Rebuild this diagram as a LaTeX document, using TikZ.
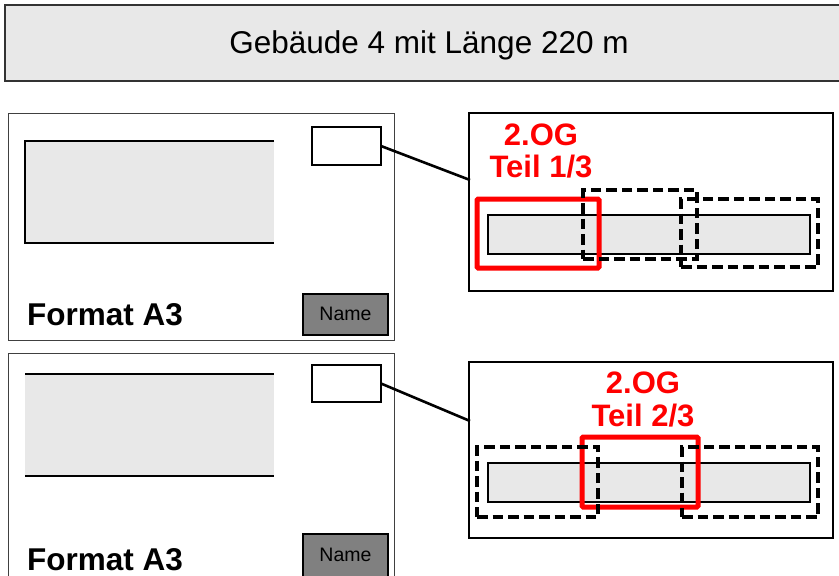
\documentclass[tikz,border=0pt]{standalone}
\usepackage{fontspec}
\setmainfont{Liberation Sans}
\definecolor{lightfill}{HTML}{E8E8E8}
\definecolor{namefill}{HTML}{808080}
\definecolor{redline}{HTML}{FF0000}
\tikzset{
  box/.style={rectangle, inner sep=0pt, outer sep=0pt},
  banner/.style={box, draw=black!80, line width=1.8pt, fill=lightfill},
  sheet/.style={box, draw=black!75, line width=1pt, fill=white},
  panel/.style={box, draw=black, line width=2.6pt, fill=white},
  smallbox/.style={box, draw=black, line width=1.5pt, fill=white},
  namebox/.style={box, draw=black, line width=1.5pt, fill=namefill},
  greyarea/.style={box, fill=lightfill},
  edge/.style={draw=black, line width=2pt},
  bar/.style={box, draw=black, line width=1.4pt, fill=lightfill},
  redbox/.style={box, draw=redline, line width=5pt, rounded corners=1.2pt},
  dashbox/.style={box, draw=black, line width=4.6pt, dash pattern=on 10.5pt off 5pt},
  conn/.style={draw=black, line width=2.6pt},
  bigtext/.style={inner sep=0pt, anchor=base, font=\fontsize{31.5}{36}\selectfont},
  fmttext/.style={inner sep=0pt, anchor=base west, font=\fontsize{31.5}{36}\selectfont\bfseries},
  redtext/.style={inner sep=0pt, anchor=base, text=redline, font=\fontsize{31}{36}\selectfont\bfseries},
  nametext/.style={inner sep=0pt, anchor=base, font=\fontsize{19.5}{22}\selectfont},
}
\begin{document}
\begin{tikzpicture}[x=1pt,y=-1pt]
\useasboundingbox (0,0) rectangle (839,576);
\clip (0,0) rectangle (839,576);
\fill[white] (0,0) rectangle (839,576);

% banner
\node[banner, minimum width=848pt, minimum height=76pt] (ban) at (429,43) {};
\node[bigtext] (bantext) at (429,53.3) {Gebäude 4 mit Länge 220 m};

% left sheet 1
\node[sheet, minimum width=386pt, minimum height=227pt] (sh1) at (201,226.5) {};
\node[greyarea, minimum width=249pt, minimum height=102pt] (ga1) at (149.5,192) {};
\draw[edge] (ga1.north east) -- (ga1.north west) -- (ga1.south west) -- (ga1.south east);
\node[smallbox, minimum width=69pt, minimum height=38pt] (sr1) at (346.5,146) {};
\node[namebox, minimum width=85pt, minimum height=41pt] (nb1) at (345.5,314.5) {};
\node[nametext] (nt1) at (345.5,320.5) {Name};
\node[fmttext] (fa1) at (27,325) {Format A3};

% left sheet 2
\node[sheet, minimum width=386pt, minimum height=236pt] (sh2) at (201,471) {};
\node[greyarea, minimum width=249pt, minimum height=102pt] (ga2) at (149.5,425) {};
\draw[edge] (ga2.north west) -- (ga2.north east);
\draw[edge] (ga2.south west) -- (ga2.south east);
\node[smallbox, minimum width=69pt, minimum height=37pt] (sr2) at (346.5,383.5) {};
\node[namebox, minimum width=85pt, minimum height=44pt] (nb2) at (345.5,556) {};
\node[nametext] (nt2) at (345.5,561.5) {Name};
\node[fmttext] (fa2) at (27,570.5) {Format A3};

% right panel 1
\node[panel, minimum width=364pt, minimum height=178pt] (rp1) at (651,202) {};
\node[bar, minimum width=322pt, minimum height=39pt] (bar1) at (649,234.5) {};
\node[redbox, minimum width=122pt, minimum height=69pt] (red1) at (538,233.5) {};
\node[dashbox, minimum width=114pt, minimum height=69pt] (d1a) at (640,224.5) {};
\node[dashbox, minimum width=137pt, minimum height=68pt] (d1b) at (749.5,233) {};
\node[redtext] (t1a) at (541,145) {2.OG};
\node[redtext] (t1b) at (541,177) {Teil 1/3};

% right panel 2
\node[panel, minimum width=364pt, minimum height=176pt] (rp2) at (651,450) {};
\node[bar, minimum width=322pt, minimum height=39pt] (bar2) at (649,482.5) {};
\node[redbox, minimum width=116pt, minimum height=70pt] (red2) at (640,472) {};
\node[dashbox, minimum width=121pt, minimum height=70pt] (d2a) at (537.5,482) {};
\node[dashbox, minimum width=136pt, minimum height=70pt] (d2b) at (750,482) {};
\node[redtext] (t2a) at (643,393) {2.OG};
\node[redtext] (t2b) at (643,426) {Teil 2/3};

% connectors
\coordinate (c1) at (470,180);
\coordinate (c2) at (470,421);
\draw[conn] (sr1.east) -- (c1);
\draw[conn] (sr2.east) -- (c2);
\end{tikzpicture}
\end{document}
